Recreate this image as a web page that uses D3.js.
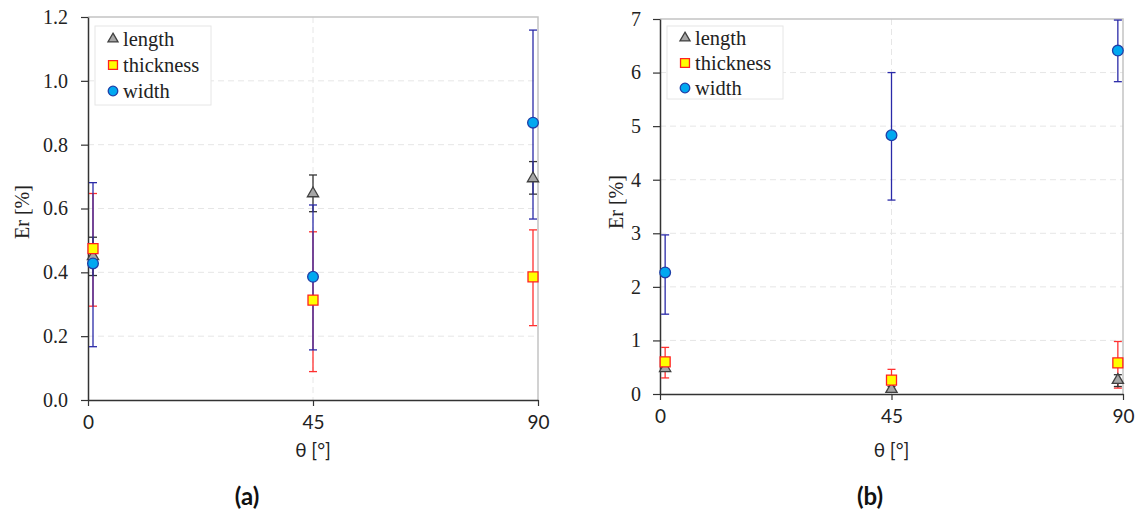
<!DOCTYPE html>
<html>
<head>
<meta charset="utf-8">
<script src="https://cdn.jsdelivr.net/npm/d3@7"></script>
<style>
  body { margin: 0; background: #fff; }
</style>
</head>
<body>
<svg id="chart" width="1139" height="512"></svg>
<script>
// shared x positions (θ in degrees) of the measurement points
const angles = [1, 45, 89];
const xTicks = [0, 45, 90];

// panel (a)
const lengthA   = [0.450, 0.647, 0.694];
const lengthALo = [0.390, 0.590, 0.645];
const lengthAHi = [0.510, 0.705, 0.747];
const thickA    = [0.474, 0.313, 0.386];
const thickALo  = [0.294, 0.089, 0.233];
const thickAHi  = [0.647, 0.527, 0.533];
const widthA    = [0.428, 0.386, 0.869];
const widthALo  = [0.167, 0.157, 0.567];
const widthAHi  = [0.681, 0.611, 1.159];
const yTicksA = [0, 0.2, 0.4, 0.6, 0.8, 1.0, 1.2];

// panel (b)
const lengthB   = [0.48, 0.09, 0.26];
const lengthBLo = [0.43, 0.04, 0.14];
const lengthBHi = [0.53, 0.14, 0.36];
const thickB    = [0.60, 0.26, 0.58];
const thickBLo  = [0.30, 0.06, 0.11];
const thickBHi  = [0.87, 0.46, 0.98];
const widthB    = [2.27, 4.83, 6.41];
const widthBLo  = [1.49, 3.62, 5.83];
const widthBHi  = [2.97, 6.00, 6.98];
const yTicksB = [0, 1, 2, 3, 4, 5, 6, 7];

const seriesNames = ['length', 'thickness', 'width'];

const styles = {
  length:    {fill: '#a6a6a6', stroke: '#404040', err: '#333333', sym: d3.symbolTriangle, size: 55},
  thickness: {fill: '#ffff00', stroke: '#ff2020', err: '#ff3030', sym: d3.symbolSquare, size: 100},
  width:     {fill: '#00a8f0', stroke: '#1f3fa8', err: '#2a2aa8', sym: d3.symbolCircle, size: 90}
};

const serif = '"Liberation Serif", "Times New Roman", serif';
const sans = 'Lato, "Open Sans", sans-serif';

const svg = d3.select('#chart');

function buildRows(vals, lo, hi) {
  return angles.map((a, i) => ({x: a, y: vals[i], lo: lo[i], hi: hi[i]}));
}

function drawPanel(p) {
  const xScale = d3.scaleLinear().domain([0, 90]).range([p.left, p.right]);
  const yScale = d3.scaleLinear().domain([0, p.yMax]).range([p.bottom, p.top]);
  const g = svg.append('g');

  // grid
  g.selectAll('.hgrid').data(p.yTicks.filter(t => t > 0 && t < p.yMax)).join('line')
    .attr('x1', p.left).attr('x2', p.right)
    .attr('y1', d => yScale(d)).attr('y2', d => yScale(d))
    .attr('stroke', '#e6e6e6').attr('stroke-dasharray', '6,4');
  g.append('line')
    .attr('x1', xScale(45)).attr('x2', xScale(45))
    .attr('y1', p.top).attr('y2', p.bottom)
    .attr('stroke', '#e6e6e6').attr('stroke-dasharray', '6,4');

  // frame top + right
  g.append('path')
    .attr('d', `M${p.left},${p.top}H${p.right}V${p.bottom}`)
    .attr('fill', 'none').attr('stroke', '#c4c4c4').attr('stroke-width', 1.5);

  // axes
  const yAxis = d3.axisLeft(yScale).tickValues(p.yTicks).tickFormat(p.fmt)
    .tickSize(7).tickPadding(p.pad).tickSizeOuter(0);
  const yg = g.append('g').attr('transform', `translate(${p.left},0)`).call(yAxis);
  yg.select('.domain').attr('stroke', '#333').attr('stroke-width', 1.5);
  yg.selectAll('.tick line').attr('stroke', '#333').attr('stroke-width', 1.2);
  yg.selectAll('.tick text').attr('font-family', serif).attr('font-size', 20).attr('fill', '#222');

  const xAxis = d3.axisBottom(xScale).tickValues(xTicks).tickSize(6).tickPadding(10).tickSizeOuter(0);
  const xg = g.append('g').attr('transform', `translate(0,${p.bottom})`).call(xAxis);
  xg.select('.domain').attr('stroke', '#333').attr('stroke-width', 1.5);
  xg.selectAll('.tick line').attr('stroke', '#333').attr('stroke-width', 1.2);
  xg.selectAll('.tick text').attr('font-family', sans).attr('font-size', 19).attr('fill', '#222');

  // error bars: thickness, length, width (width on top)
  ['thickness', 'length', 'width'].forEach(name => {
    const st = styles[name];
    const rows = p.data[name];
    const eg = g.append('g').attr('stroke', st.err).attr('stroke-width', 1.3);
    eg.selectAll('.v').data(rows).join('line')
      .attr('x1', d => xScale(d.x)).attr('x2', d => xScale(d.x))
      .attr('y1', d => yScale(d.lo)).attr('y2', d => yScale(d.hi));
    eg.selectAll('.lo').data(rows).join('line')
      .attr('x1', d => xScale(d.x) - 4).attr('x2', d => xScale(d.x) + 4)
      .attr('y1', d => yScale(d.lo)).attr('y2', d => yScale(d.lo));
    eg.selectAll('.hi').data(rows).join('line')
      .attr('x1', d => xScale(d.x) - 4).attr('x2', d => xScale(d.x) + 4)
      .attr('y1', d => yScale(d.hi)).attr('y2', d => yScale(d.hi));
  });

  // markers
  ['length', 'width', 'thickness'].forEach(name => {
    const st = styles[name];
    g.selectAll(null).data(p.data[name]).join('path')
      .attr('d', d3.symbol().type(st.sym).size(st.size))
      .attr('transform', d => `translate(${xScale(d.x)},${yScale(d.y)})`)
      .attr('fill', st.fill).attr('stroke', st.stroke).attr('stroke-width', 1.3);
  });

  // legend
  const lg = g.append('g');
  lg.append('rect')
    .attr('x', p.legend.x).attr('y', p.legend.y)
    .attr('width', p.legend.w).attr('height', p.legend.h)
    .attr('fill', '#fff').attr('stroke', '#e6e6e6');
  seriesNames.forEach((name, i) => {
    const st = styles[name];
    const cy = p.legend.y + p.legend.row0 + i * p.legend.step;
    lg.append('path')
      .attr('d', d3.symbol().type(st.sym).size(st.size * 0.8))
      .attr('transform', `translate(${p.legend.x + p.legend.mx},${cy})`)
      .attr('fill', st.fill).attr('stroke', st.stroke).attr('stroke-width', 1.3);
    lg.append('text')
      .attr('x', p.legend.x + p.legend.mx + 10).attr('y', cy)
      .attr('dy', '0.33em')
      .attr('font-family', serif).attr('font-size', 20.5).attr('fill', '#222')
      .text(name);
  });

  // axis titles
  g.append('text')
    .attr('transform', `translate(${p.yLabelX},${p.yLabelY}) rotate(-90)`)
    .attr('text-anchor', 'middle').attr('dy', '0.35em')
    .attr('font-family', serif).attr('font-size', 20).attr('fill', '#222')
    .text('Er [%]');
  g.append('text')
    .attr('x', xScale(45)).attr('y', 450).attr('text-anchor', 'middle').attr('dy', '0.35em')
    .attr('font-family', sans).attr('font-size', 19).attr('fill', '#222')
    .text('θ [°]');
  g.append('text')
    .attr('x', p.tagX).attr('y', 497).attr('text-anchor', 'middle').attr('dy', '0.35em')
    .attr('font-family', sans).attr('font-size', 24).attr('font-weight', 'bold').attr('fill', '#111')
    .text(p.tag);
}

drawPanel({
  left: 88, right: 538, top: 17, bottom: 400, yMax: 1.2,
  yTicks: yTicksA, fmt: d3.format('.1f'), pad: 13,
  data: {
    length: buildRows(lengthA, lengthALo, lengthAHi),
    thickness: buildRows(thickA, thickALo, thickAHi),
    width: buildRows(widthA, widthALo, widthAHi)
  },
  legend: {x: 95, y: 26, w: 116, h: 79, mx: 18, row0: 13, step: 26},
  yLabelX: 22, yLabelY: 212, tagX: 247, tag: '(a)'
});

drawPanel({
  left: 660, right: 1123, top: 19, bottom: 394, yMax: 7,
  yTicks: yTicksB, fmt: d3.format('d'), pad: 12,
  data: {
    length: buildRows(lengthB, lengthBLo, lengthBHi),
    thickness: buildRows(thickB, thickBLo, thickBHi),
    width: buildRows(widthB, widthBLo, widthBHi)
  },
  legend: {x: 667, y: 26, w: 116, h: 73, mx: 18, row0: 12, step: 25},
  yLabelX: 616, yLabelY: 202, tagX: 870, tag: '(b)'
});
</script>
</body>
</html>
